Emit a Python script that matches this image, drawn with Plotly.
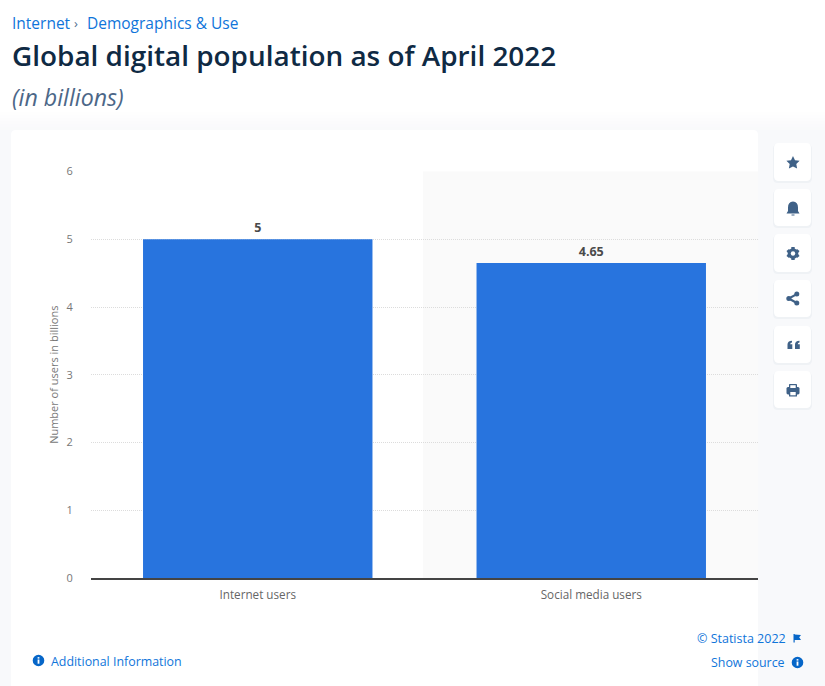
import re
import plotly.graph_objects as go

# Chart data
categories = ["Internet users", "Social media users"]
users_billions = [5, 4.65]
value_labels = ["5", "4.65"]
y_ticks = [0, 1, 2, 3, 4, 5, 6]

# Page texts
breadcrumb_root = "Internet"
breadcrumb_sep = "›"
breadcrumb_leaf = "Demographics &amp; Use"
headline = "Global digital population as of April 2022"
subhead = "(in billions)"
axis_title = "Number of users in billions"
copyright_text = "© Statista 2022"
source_text = "Show source"
info_text = "Additional Information"

W, H = 825, 686
PLOT_L, PLOT_R, PLOT_T, PLOT_B = 91, 758, 171.5, 578
FONT = "Open Sans"
BLUE = "#0f75da"
NAVY = "#0f2a44"
ICON = "#3f6187"
SHADE = "#f8f9fb"


def fx(x):
    return x / W


def fy(y):
    return 1 - y / H


def path(d):
    """Convert an SVG path written in page pixels to figure fractions."""
    return re.sub(
        r"(-?[\d.]+),(-?[\d.]+)",
        lambda m: f"{fx(float(m[1])):.5f},{fy(float(m[2])):.5f}",
        d,
    )


def rect(x0, y0, x1, y1, color, layer="below", opacity=1):
    return dict(type="rect", xref="paper", yref="paper", x0=fx(x0), x1=fx(x1),
                y0=fy(y0), y1=fy(y1), fillcolor=color, line_width=0,
                layer=layer, opacity=opacity)


def shape_path(d, color, layer="above", opacity=1):
    return dict(type="path", xref="paper", yref="paper", path=path(d),
                fillcolor=color, line_width=0, layer=layer, opacity=opacity)


def rounded(x0, y0, x1, y1, r):
    return (f"M{x0 + r},{y0} L{x1 - r},{y0} Q{x1},{y0} {x1},{y0 + r} "
            f"L{x1},{y1 - r} Q{x1},{y1} {x1 - r},{y1} L{x0 + r},{y1} "
            f"Q{x0},{y1} {x0},{y1 - r} L{x0},{y0 + r} Q{x0},{y0} {x0 + r},{y0} Z")


def circle(cx, cy, r, color, layer="above"):
    return dict(type="circle", xref="paper", yref="paper", x0=fx(cx - r),
                x1=fx(cx + r), y0=fy(cy - r), y1=fy(cy + r), fillcolor=color,
                line_width=0, layer=layer)


shapes = []

# Soft page shading around the card
for i, c in enumerate(["#fefefe", "#fdfdfe", "#fcfcfd", "#fbfbfc", "#fafafc", "#f9fafb"]):
    top = 112 + i * 3
    shapes.append(rect(0, top, W, H, c))
shapes.append(rect(0, 130, W, H, SHADE))

# Card and the shaded half of the plot
shapes.append(shape_path(rounded(11, 130, 758, 700, 5), "#ffffff", layer="below"))
shapes.append(rect(423, PLOT_T, PLOT_R, PLOT_B, "#fafafa"))

# Toolbar buttons
button_rows = [(143, 181), (189, 226), (234, 272), (280, 317), (326, 363), (371, 408)]
for y0, y1 in button_rows:
    shapes.append(shape_path(rounded(773, y0 + 1, 812, y1 + 2, 5), "#e9edf2", opacity=0.6))
    shapes.append(shape_path(rounded(774, y0, 811, y1, 5), "#ffffff"))

# Star
shapes.append(shape_path(
    "M793,156 L795,160.2 L799.6,160.8 L796.3,164 L797.1,168.6 L793,166.4 "
    "L788.9,168.6 L789.7,164 L786.4,160.8 L791,160.2 Z", ICON))
# Bell
shapes.append(shape_path(
    "M793,201.5 Q798,201.8 798,207.5 L798,211 L799.5,213.5 L786.5,213.5 L788,211 "
    "L788,207.5 Q788,201.8 793,201.5 Z", ICON))
shapes.append(rect(791.5, 214.5, 794.5, 215.5, ICON, layer="above"))
# Gear: ring with six teeth
for tooth in ["M791.3,247 L794.7,247 L794.7,250 L791.3,250 Z",
              "M791.3,257 L794.7,257 L794.7,260 L791.3,260 Z",
              "M786.5,251 L789,249 L791,251.5 L788.5,254 Z",
              "M799.5,251 L797,249 L795,251.5 L797.5,254 Z",
              "M786.5,256 L789,258 L791,255.5 L788.5,253 Z",
              "M799.5,256 L797,258 L795,255.5 L797.5,253 Z"]:
    shapes.append(shape_path(tooth, ICON))
shapes.append(circle(793, 253.5, 5.2, ICON))
shapes.append(circle(793, 253.5, 2.2, "#ffffff"))
# Share
shapes.append(circle(796.8, 294, 2.5, ICON))
shapes.append(circle(796.8, 303, 2.5, ICON))
shapes.append(circle(788.8, 298.5, 2.5, ICON))
shapes.append(shape_path("M788.3,297.6 L796.3,293.2 L797.3,294.9 L789.3,299.4 Z", ICON))
shapes.append(shape_path("M789.3,297.6 L797.3,302.1 L796.3,303.9 L788.3,299.4 Z", ICON))
# Quotation marks
for dx in (0, 7.5):
    shapes.append(shape_path(
        f"M{787.5 + dx},344.5 Q{787.5 + dx},341 {792 + dx},340.8 L{792 + dx},342.6 "
        f"Q{790.3 + dx},342.8 {790.2 + dx},344.3 L{792.3 + dx},344.3 L{792.3 + dx},349 "
        f"L{787.5 + dx},349 Z", ICON))
# Printer
shapes.append(shape_path(rounded(786.5, 387, 799.5, 394.5, 1.5), ICON))
shapes.append(shape_path(rounded(789, 384, 797, 388, 0.8), ICON))
shapes.append(rect(790.3, 385.2, 795.7, 388, "#ffffff", layer="above"))
shapes.append(shape_path(rounded(789, 391, 797, 396.5, 0.5), ICON))
shapes.append(rect(790.3, 392, 795.7, 395.3, "#ffffff", layer="above"))

# Information and flag marks in the footer
shapes.append(circle(38.5, 660.5, 5.8, "#0666c8"))
shapes.append(circle(797.5, 662.5, 5.8, "#0666c8"))
for cx, cy in [(38.5, 660.5), (797.5, 662.5)]:
    shapes.append(rect(cx - 0.9, cy - 1, cx + 0.9, cy + 3.2, "#ffffff", layer="above"))
    shapes.append(rect(cx - 0.9, cy - 3.4, cx + 0.9, cy - 1.9, "#ffffff", layer="above"))
shapes.append(shape_path(
    "M793.5,634 L794.7,634 L794.7,634.5 L801,635 L799.2,637.3 L801,640 L794.7,640 "
    "L794.7,642.5 L793.5,642.5 Z", "#0666c8"))


def label(x, y, text, size, color, anchor="left", weight=400, style="normal"):
    return dict(x=fx(x), y=fy(y), xref="paper", yref="paper", text=text,
                showarrow=False, xanchor=anchor, yanchor="middle",
                borderpad=0, align=anchor,
                font=dict(family=FONT, size=size, color=color, weight=weight, style=style))


annotations = [
    label(11, 23, breadcrumb_root, 15.5, BLUE),
    label(73, 23, breadcrumb_sep, 13, "#53708f"),
    label(86, 23, breadcrumb_leaf, 15.5, BLUE),
    label(11, 54.5, headline, 27.9, NAVY, weight=600),
    label(11, 97, subhead, 23.2, "#4c6788", style="italic"),
    label(50, 661, info_text, 12.4, BLUE),
    label(787, 638, copyright_text, 12.5, BLUE, anchor="right"),
    label(786, 662.5, source_text, 12.4, BLUE, anchor="right"),
]

fig = go.Figure(go.Bar(
    x=categories,
    y=users_billions,
    text=value_labels,
    textposition="outside",
    cliponaxis=False,
    textangle=0,
    textfont=dict(family=FONT, size=12.5, color="#4a4a4a", weight=700),
    marker=dict(color="#2874de", line_width=0),
    hoverinfo="x+y",
))

fig.update_layout(
    width=W,
    height=H,
    margin=dict(l=0, r=0, t=0, b=0, autoexpand=False),
    paper_bgcolor="#ffffff",
    plot_bgcolor="rgba(0,0,0,0)",
    bargap=0.312,
    showlegend=False,
    shapes=shapes,
    annotations=annotations,
    font=dict(family=FONT),
    xaxis=dict(
        domain=[fx(PLOT_L), fx(PLOT_R)],
        showline=True,
        linecolor="#444444",
        linewidth=1.5,
        ticks="outside",
        ticklen=5,
        tickcolor="rgba(0,0,0,0)",
        tickfont=dict(family=FONT, size=11.7, color="#666666"),
        showgrid=False,
    ),
    yaxis=dict(
        domain=[fy(PLOT_B), fy(PLOT_T)],
        range=[0, 6],
        tickvals=y_ticks,
        ticks="outside",
        ticklen=15,
        tickcolor="rgba(0,0,0,0)",
        tickfont=dict(family=FONT, size=11, color="#777777"),
        showgrid=True,
        gridcolor="#dcdcdc",
        gridwidth=1,
        griddash="1px,1px",
        zeroline=False,
        title=dict(text=axis_title, standoff=5,
                   font=dict(family=FONT, size=11, color="#777777")),
    ),
)

fig.write_html("out.html", config=dict(displayModeBar=False))
